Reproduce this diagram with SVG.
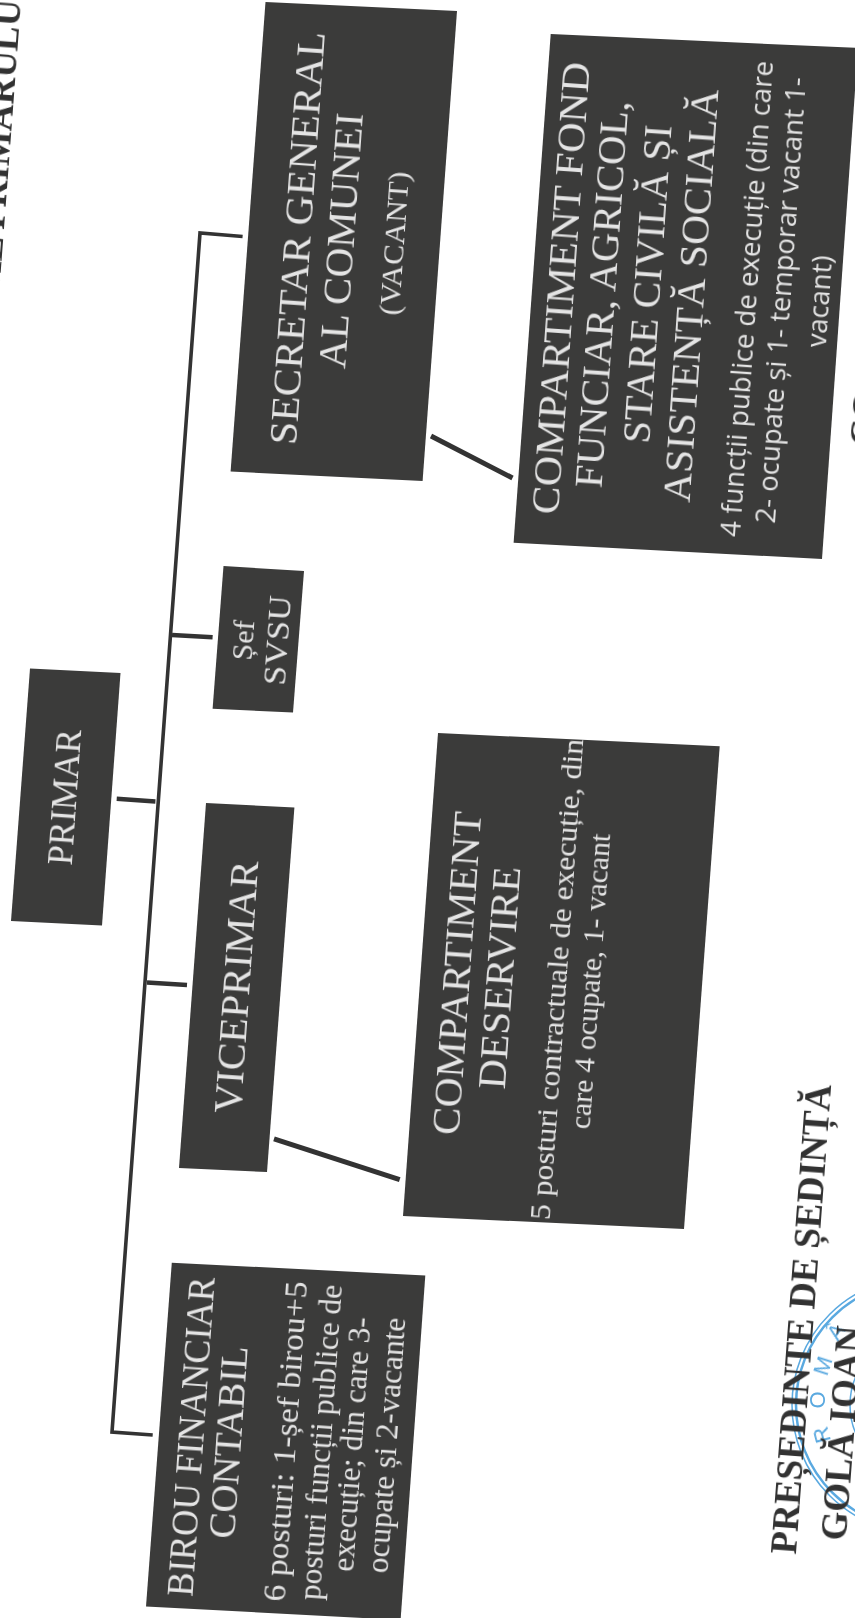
<svg xmlns="http://www.w3.org/2000/svg" width="855" height="1618" viewBox="0 0 855 1618">
<defs><filter id="soft" x="-5%" y="-20%" width="110%" height="140%"><feGaussianBlur stdDeviation="0.35"/></filter></defs>
<style>
.box{fill:#3b3b3a}
.c{fill:none;stroke:#333;stroke-width:4.5}
.m{stroke-width:3.6}
.d{stroke-width:5}
text{text-anchor:middle;font-family:"Liberation Serif",serif;fill:#e4e4e4;filter:url(#soft)}
.f41{font-size:41px}.f37{font-size:37px}.f32{font-size:32px}.f30{font-size:30px}
.s{font-family:"Open Sans",sans-serif;font-size:27px}
.b{font-weight:bold;font-size:37px;fill:#333}
.st{fill:none;stroke:#5aa9e0}
.sl{fill:#5aa9e0;font-family:"Liberation Sans",sans-serif;font-size:22px}
</style>
<rect width="855" height="1618" fill="#fff"/>
<g id="connectors">
<path class="c m" d="M242.6 236.5L200 233L112 1432L152.7 1435"/>
<path class="c" d="M172 635L212.6 637.3"/>
<path class="c" d="M116.7 798.8L155.4 801.4"/>
<path class="c" d="M147 982.5L187 985"/>
<path class="c d" d="M431 436L512.5 478"/>
<path class="c d" d="M274 1138.8L399.7 1179.7"/>
</g>
<g id="secretar">
<polygon class="box" points="265.5,2 457,11 422.6,481 230.6,471.5"/>
<text class="f41" textLength="414" lengthAdjust="spacingAndGlyphs" transform="translate(310.5,239) rotate(-86)">SECRETAR GENERAL</text>
<text class="f41" textLength="256" lengthAdjust="spacingAndGlyphs" transform="translate(354,241.6) rotate(-86)">AL COMUNEI</text>
<text class="f30" textLength="144" lengthAdjust="spacingAndGlyphs" transform="translate(404,244) rotate(-86)">(VACANT)</text>
</g>
<g id="compartiment-fond">
<polygon class="box" points="550.7,34 858,48 822,559 513.6,542.7"/>
<text class="f41" textLength="453" lengthAdjust="spacingAndGlyphs" transform="translate(574,289) rotate(-86)">COMPARTIMENT FOND</text>
<text class="f41" textLength="388" lengthAdjust="spacingAndGlyphs" transform="translate(615,295) rotate(-86)">FUNCIAR, AGRICOL,</text>
<text class="f41" textLength="319" lengthAdjust="spacingAndGlyphs" transform="translate(660.5,285) rotate(-86)">STARE CIVILĂ ȘI</text>
<text class="f41" textLength="414" lengthAdjust="spacingAndGlyphs" transform="translate(704,296.5) rotate(-86)">ASISTENȚĂ SOCIALĂ</text>
<text class="s" textLength="477" lengthAdjust="spacingAndGlyphs" transform="translate(756.5,299.5) rotate(-86)">4 funcții publice de execuție (din care</text>
<text class="s" textLength="447" lengthAdjust="spacingAndGlyphs" transform="translate(790.5,301) rotate(-86)">2- ocupate și 1- temporar vacant 1-</text>
<text class="s" textLength="92" lengthAdjust="spacingAndGlyphs" transform="translate(829,302) rotate(-86)">vacant)</text>
</g>
<g id="sef-svsu">
<polygon class="box" points="223.5,566 304,571 293,712.6 212.6,708.8"/>
<text class="f30" textLength="40" lengthAdjust="spacingAndGlyphs" transform="translate(253,641) rotate(-86)">Șef</text>
<text class="f32" textLength="90" lengthAdjust="spacingAndGlyphs" transform="translate(288,641) rotate(-86)">SVSU</text>
</g>
<g id="primar">
<polygon class="box" points="30,668.6 120.5,673 102,925.4 11,921"/>
<text style="font-size:35.5px" textLength="136" lengthAdjust="spacingAndGlyphs" transform="translate(76.5,798) rotate(-86)">PRIMAR</text>
</g>
<g id="viceprimar">
<polygon class="box" points="206,803 294.4,807.6 267,1172 179,1168"/>
<text class="f41" textLength="253" lengthAdjust="spacingAndGlyphs" transform="translate(249.5,988) rotate(-86)">VICEPRIMAR</text>
</g>
<g id="compartiment-deservire">
<polygon class="box" points="438,733 719.7,746.3 684,1229 403,1216"/>
<text class="f41" textLength="324" lengthAdjust="spacingAndGlyphs" transform="translate(470,974) rotate(-86)">COMPARTIMENT</text>
<text class="f41" textLength="223" lengthAdjust="spacingAndGlyphs" transform="translate(512.6,978.6) rotate(-86)">DESERVIRE</text>
<text class="f30" textLength="482" lengthAdjust="spacingAndGlyphs" transform="translate(566.5,980) rotate(-86)">5 posturi contractuale de execuție, din</text>
<text class="f30" textLength="296" lengthAdjust="spacingAndGlyphs" transform="translate(600,982) rotate(-86)">care 4 ocupate, 1- vacant</text>
</g>
<g id="birou">
<polygon class="box" points="171.8,1262.7 425.3,1275.4 400.6,1620 146,1606.5"/>
<text class="f37" textLength="320" lengthAdjust="spacingAndGlyphs" transform="translate(203.6,1437.5) rotate(-86)">BIROU FINANCIAR</text>
<text class="f37" textLength="193" lengthAdjust="spacingAndGlyphs" transform="translate(241,1443) rotate(-86)">CONTABIL</text>
<text class="f32" textLength="321" lengthAdjust="spacingAndGlyphs" transform="translate(296,1442) rotate(-86)">6 posturi: 1-șef birou+5</text>
<text class="f32" textLength="316" lengthAdjust="spacingAndGlyphs" transform="translate(331,1443) rotate(-86)">posturi funcții publice de</text>
<text class="f32" textLength="255" lengthAdjust="spacingAndGlyphs" transform="translate(362,1445) rotate(-86)">execuție; din care 3-</text>
<text class="f32" textLength="256" lengthAdjust="spacingAndGlyphs" transform="translate(396.5,1446) rotate(-86)">ocupate și 2-vacante</text>
</g>
<g id="stamp">
<circle class="st" cx="920" cy="1405" r="128" stroke-width="1.5"/>
<circle class="st" cx="920" cy="1405" r="124" stroke-width="2.5"/>
<circle class="st" cx="920" cy="1405" r="70" stroke-width="1.5"/>
<text class="sl" transform="translate(829,1433) rotate(-105)">R</text>
<text class="sl" transform="translate(825,1400) rotate(-90)">O</text>
<text class="sl" transform="translate(830,1368) rotate(-72)">M</text>
<text class="sl" transform="translate(842,1336) rotate(-55)">Â</text>
</g>
<g id="semnatura">
<text class="b" transform="translate(813.5,1320) rotate(-85.7)">PREȘEDINTE DE ȘEDINȚĂ</text>
<text class="b" transform="translate(854,1434) rotate(-85.7)">GOLĂ IOAN</text>
</g>
<g id="antet">
<text class="b" style="text-anchor:start" transform="translate(4,228) rotate(-85.7)" x="-60.6">AL PRIMARULUI</text>
<text class="b" style="text-anchor:start" transform="translate(875,447) rotate(-85.7)">CO</text>
</g>
</svg>
